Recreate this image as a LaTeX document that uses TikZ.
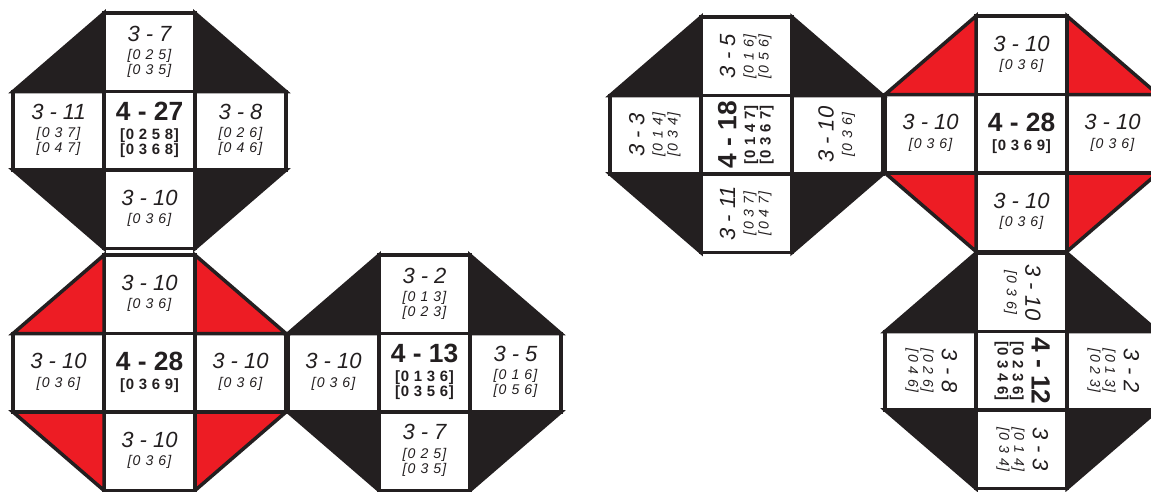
\documentclass[tikz,border=0pt]{standalone}
\usepackage{fontspec}
\setmainfont{Liberation Sans}
\usepackage{graphicx}
\usetikzlibrary{positioning}
\definecolor{tonnetzBlack}{RGB}{35,31,32}
\definecolor{tonnetzRed}{RGB}{237,28,36}
\newcommand{\tname}[1]{{\fontsize{12.5}{12.5}\selectfont\itshape #1}}
\newcommand{\tset}[1]{{\itshape\addfontfeature{LetterSpace=8}#1}}
\newcommand{\qname}[1]{{\fontsize{15}{15}\selectfont\bfseries #1}}
\newcommand{\qset}[1]{{\fontsize{8.5}{8.5}\selectfont\bfseries\addfontfeature{LetterSpace=4}#1}}
\newcommand{\cellrot}[2]{\rotatebox{#1}{\begin{tabular}{@{}c@{}}#2\end{tabular}}}

\begin{document}
\begin{tikzpicture}[
  x=0.02cm,y=-0.02cm,
  cell/.style={
    draw=tonnetzBlack,
    line width=2pt,
    fill=white,
    minimum width=1.82cm,
    minimum height=1.57cm,
    inner sep=0pt,
    outer sep=0pt,
    text=tonnetzBlack,
    font=\fontsize{8}{8.5}\selectfont
  },
  corner/.style={draw=tonnetzBlack,line width=2pt,fill=#1}
]
  \useasboundingbox (0,0) rectangle (1151,491);
  \clip (0,0) rectangle (1151,491);

  % 4-27
  \node[cell] (a-c) at (149.5,130.75)
    {\cellrot{0}{\qname{4 - 27}\\[2pt]\qset{[0 2 5 8]}\\\qset{[0 3 6 8]}}};
  \node[cell,above=0pt of a-c] (a-n)
    {\cellrot{0}{\tname{3 - 7}\\[2pt]\tset{[0 2 5]}\\\tset{[0 3 5]}}};
  \node[cell,left=0pt of a-c] (a-w)
    {\cellrot{0}{\tname{3 - 11}\\[2pt]\tset{[0 3 7]}\\\tset{[0 4 7]}}};
  \node[cell,right=0pt of a-c] (a-e)
    {\cellrot{0}{\tname{3 - 8}\\[2pt]\tset{[0 2 6]}\\\tset{[0 4 6]}}};
  \node[cell,below=0pt of a-c] (a-s)
    {\cellrot{0}{\tname{3 - 10}\\[2pt]\tset{[0 3 6]}}};

  % 4-28
  \node[cell] (b-c) at (149.5,372.75)
    {\cellrot{0}{\qname{4 - 28}\\[2pt]\qset{[0 3 6 9]}}};
  \node[cell,above=0pt of b-c] (b-n)
    {\cellrot{0}{\tname{3 - 10}\\[2pt]\tset{[0 3 6]}}};
  \node[cell,left=0pt of b-c] (b-w)
    {\cellrot{0}{\tname{3 - 10}\\[2pt]\tset{[0 3 6]}}};
  \node[cell,right=0pt of b-c] (b-e)
    {\cellrot{0}{\tname{3 - 10}\\[2pt]\tset{[0 3 6]}}};
  \node[cell,below=0pt of b-c] (b-s)
    {\cellrot{0}{\tname{3 - 10}\\[2pt]\tset{[0 3 6]}}};

  % 4-13
  \node[cell] (c-c) at (424.5,372.75)
    {\cellrot{0}{\qname{4 - 13}\\[2pt]\qset{[0 1 3 6]}\\\qset{[0 3 5 6]}}};
  \node[cell,above=0pt of c-c] (c-n)
    {\cellrot{0}{\tname{3 - 2}\\[2pt]\tset{[0 1 3]}\\\tset{[0 2 3]}}};
  \node[cell,left=0pt of c-c] (c-w)
    {\cellrot{0}{\tname{3 - 10}\\[2pt]\tset{[0 3 6]}}};
  \node[cell,right=0pt of c-c] (c-e)
    {\cellrot{0}{\tname{3 - 5}\\[2pt]\tset{[0 1 6]}\\\tset{[0 5 6]}}};
  \node[cell,below=0pt of c-c] (c-s)
    {\cellrot{0}{\tname{3 - 7}\\[2pt]\tset{[0 2 5]}\\\tset{[0 3 5]}}};

  % 4-18, turned
  \node[cell] (d-c) at (746.5,134.75)
    {\cellrot{90}{\qname{4 - 18}\\[2pt]\qset{[0 1 4 7]}\\\qset{[0 3 6 7]}}};
  \node[cell,above=0pt of d-c] (d-n)
    {\cellrot{90}{\tname{3 - 5}\\[2pt]\tset{[0 1 6]}\\\tset{[0 5 6]}}};
  \node[cell,left=0pt of d-c] (d-w)
    {\cellrot{90}{\tname{3 - 3}\\[2pt]\tset{[0 1 4]}\\\tset{[0 3 4]}}};
  \node[cell,right=0pt of d-c] (d-e)
    {\cellrot{90}{\tname{3 - 10}\\[2pt]\tset{[0 3 6]}}};
  \node[cell,below=0pt of d-c] (d-s)
    {\cellrot{90}{\tname{3 - 11}\\[2pt]\tset{[0 3 7]}\\\tset{[0 4 7]}}};

  % 4-28
  \node[cell] (e-c) at (1021.5,133.75)
    {\cellrot{0}{\qname{4 - 28}\\[2pt]\qset{[0 3 6 9]}}};
  \node[cell,above=0pt of e-c] (e-n)
    {\cellrot{0}{\tname{3 - 10}\\[2pt]\tset{[0 3 6]}}};
  \node[cell,left=0pt of e-c] (e-w)
    {\cellrot{0}{\tname{3 - 10}\\[2pt]\tset{[0 3 6]}}};
  \node[cell,right=0pt of e-c] (e-e)
    {\cellrot{0}{\tname{3 - 10}\\[2pt]\tset{[0 3 6]}}};
  \node[cell,below=0pt of e-c] (e-s)
    {\cellrot{0}{\tname{3 - 10}\\[2pt]\tset{[0 3 6]}}};

  % 4-12, turned
  \node[cell] (f-c) at (1021.5,370.75)
    {\cellrot{-90}{\qname{4 - 12}\\[2pt]\qset{[0 2 3 6]}\\\qset{[0 3 4 6]}}};
  \node[cell,above=0pt of f-c] (f-n)
    {\cellrot{-90}{\tname{3 - 10}\\[2pt]\tset{[0 3 6]}}};
  \node[cell,left=0pt of f-c] (f-w)
    {\cellrot{-90}{\tname{3 - 8}\\[2pt]\tset{[0 2 6]}\\\tset{[0 4 6]}}};
  \node[cell,right=0pt of f-c] (f-e)
    {\cellrot{-90}{\tname{3 - 2}\\[2pt]\tset{[0 1 3]}\\\tset{[0 2 3]}}};
  \node[cell,below=0pt of f-c] (f-s)
    {\cellrot{-90}{\tname{3 - 3}\\[2pt]\tset{[0 1 4]}\\\tset{[0 3 4]}}};

  % corner triangles
  \foreach \u/\col in {a/tonnetzBlack,b/tonnetzRed,c/tonnetzBlack,
                       d/tonnetzBlack,e/tonnetzRed,f/tonnetzBlack}{
    \draw[corner=\col] (\u-w.north west) -- (\u-n.north west) -- (\u-c.north west) -- cycle;
    \draw[corner=\col] (\u-n.north east) -- (\u-e.north east) -- (\u-c.north east) -- cycle;
    \draw[corner=\col] (\u-e.south east) -- (\u-s.south east) -- (\u-c.south east) -- cycle;
    \draw[corner=\col] (\u-s.south west) -- (\u-w.south west) -- (\u-c.south west) -- cycle;
  }
\end{tikzpicture}
\end{document}
